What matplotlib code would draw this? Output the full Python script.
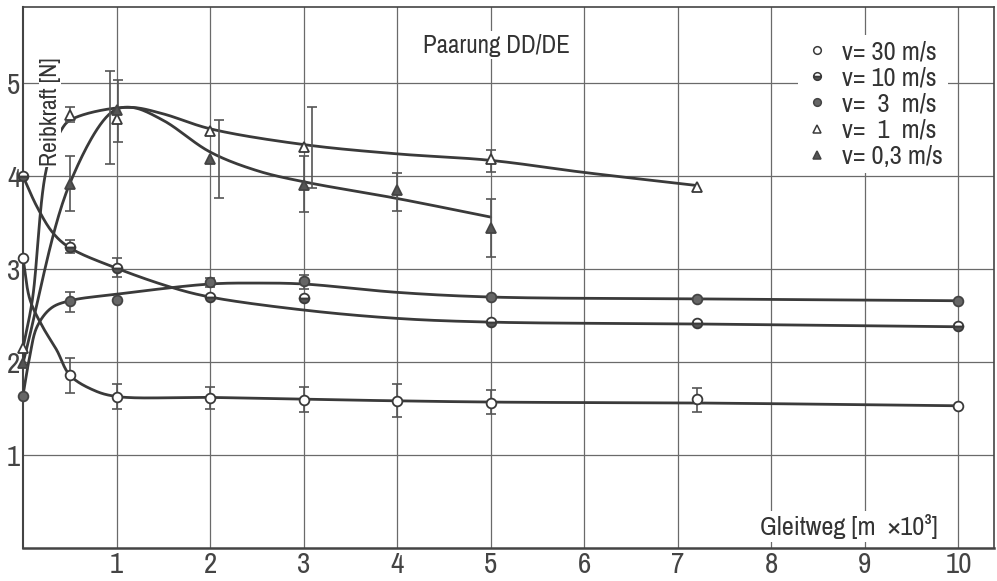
import numpy as np
import matplotlib
matplotlib.use("Agg")
import matplotlib.pyplot as plt
from matplotlib.lines import Line2D
from matplotlib import font_manager as fm

# pick a narrow font if one is installed
_narrow = None
for f in fm.fontManager.ttflist:
    if ('Narrow' in f.name or 'Condensed' in f.name) and _narrow is None:
        _narrow = f.name
_cond_stretch = [f for f in fm.fontManager.ttflist if f.stretch in ('condensed', 'semi-condensed', 'extra-condensed', 300, 400, 200)]
if _narrow:
    plt.rcParams['font.family'] = [_narrow, 'DejaVu Sans']
elif _cond_stretch:
    plt.rcParams['font.family'] = [_cond_stretch[0].name, 'DejaVu Sans']
    plt.rcParams['font.stretch'] = 'condensed'
else:
    plt.rcParams['font.family'] = ['Roboto', 'DejaVu Sans']
plt.rcParams['font.weight'] = 'light'

# ---------------- data ----------------
labels = ["v= 30 m/s", "v= 10 m/s", "v=  3  m/s", "v=  1  m/s", "v= 0,3 m/s"]

# measured points
x30 = [0, 0.5, 1, 2, 3, 4, 5, 7.2, 10]
y30 = [3.12, 1.86, 1.62, 1.61, 1.59, 1.58, 1.56, 1.60, 1.53]
x10 = [0, 0.5, 1, 2, 3, 5, 7.2, 10]
y10 = [4.00, 3.24, 3.01, 2.70, 2.69, 2.43, 2.42, 2.39]
x3 = [0, 0.5, 1, 2, 3, 5, 7.2, 10]
y3 = [1.64, 2.66, 2.67, 2.86, 2.87, 2.70, 2.68, 2.66]
x1 = [0, 0.5, 1, 2, 3, 5, 7.2]
y1 = [2.15, 4.66, 4.62, 4.49, 4.31, 4.18, 3.88]
x03 = [0, 0.5, 1, 2, 3, 4, 5]
y03 = [1.99, 3.92, 4.71, 4.19, 3.91, 3.85, 3.44]

# error bars (x position, lower, upper)
e30_x = [0.5, 1, 2, 3, 4, 5, 7.2]
e30_lo = [1.67, 1.50, 1.50, 1.46, 1.41, 1.44, 1.46]
e30_hi = [2.04, 1.76, 1.73, 1.73, 1.76, 1.70, 1.72]
e10_x = [0.5, 1]
e10_lo = [3.17, 2.92]
e10_hi = [3.31, 3.12]
e3_x = [0.5, 2, 3]
e3_lo = [2.54, 2.81, 2.79]
e3_hi = [2.75, 2.91, 2.94]
e1_x = [0.5, 0.93, 3.09, 5]
e1_lo = [4.58, 4.13, 3.87, 4.05]
e1_hi = [4.74, 5.13, 4.74, 4.28]
e03_x = [0.5, 1.02, 2.09, 3, 4, 5]
e03_lo = [3.63, 4.37, 3.77, 3.61, 3.63, 3.13]
e03_hi = [4.22, 5.03, 4.60, 4.22, 4.03, 3.75]

# hand-drawn fitted curves (knots)
c30_x = [0, 0.075, 0.21, 0.36, 0.5, 0.75, 1, 2, 3, 5, 7.2, 10]
c30_y = [3.12, 2.67, 2.38, 2.13, 1.86, 1.70, 1.63, 1.62, 1.60, 1.57, 1.56, 1.53]
c10_x = [0, 0.15, 0.32, 0.5, 1, 1.6, 2, 3, 4, 5, 7.2, 10]
c10_y = [4.00, 3.67, 3.39, 3.23, 3.01, 2.80, 2.70, 2.56, 2.47, 2.43, 2.41, 2.38]
c3_x = [0, 0.07, 0.15, 0.3, 0.5, 1, 2, 2.5, 3, 4, 5, 7.2, 10]
c3_y = [1.64, 2.05, 2.38, 2.58, 2.66, 2.73, 2.84, 2.85, 2.84, 2.75, 2.70, 2.68, 2.66]
c1_x = [0, 0.1, 0.26, 0.43, 0.5, 0.75, 1.16, 1.5, 2, 3, 4, 5, 6, 7.2]
c1_y = [2.15, 2.67, 4.12, 4.53, 4.60, 4.69, 4.74, 4.67, 4.51, 4.34, 4.24, 4.17, 4.04, 3.90]
c03_x = [0, 0.5, 0.95, 1.16, 1.5, 2, 2.5, 3, 4, 5]
c03_y = [1.99, 3.92, 4.69, 4.74, 4.60, 4.26, 4.06, 3.94, 3.76, 3.56]

x_ticks = [1, 2, 3, 4, 5, 6, 7, 8, 9, 10]
y_ticks = [1, 2, 3, 4, 5]


def smooth(xs, ys, n=30, sx=93.5, sy=93.0):
    """Centripetal Catmull-Rom curve through the given knots."""
    P = np.column_stack([np.asarray(xs, float) * sx, np.asarray(ys, float) * sy])
    P = np.vstack([2 * P[0] - P[1], P, 2 * P[-1] - P[-2]])
    out = []
    for i in range(1, len(P) - 2):
        p0, p1, p2, p3 = P[i - 1], P[i], P[i + 1], P[i + 2]
        t0 = 0.0
        t1 = t0 + np.linalg.norm(p1 - p0) ** 0.5
        t2 = t1 + np.linalg.norm(p2 - p1) ** 0.5
        t3 = t2 + np.linalg.norm(p3 - p2) ** 0.5
        t = np.linspace(t1, t2, n)[:, None]
        a1 = (t1 - t) / (t1 - t0) * p0 + (t - t0) / (t1 - t0) * p1
        a2 = (t2 - t) / (t2 - t1) * p1 + (t - t1) / (t2 - t1) * p2
        a3 = (t3 - t) / (t3 - t2) * p2 + (t - t2) / (t3 - t2) * p3
        b1 = (t2 - t) / (t2 - t0) * a1 + (t - t0) / (t2 - t0) * a2
        b2 = (t3 - t) / (t3 - t1) * a2 + (t - t1) / (t3 - t1) * a3
        c = (t2 - t) / (t2 - t1) * b1 + (t - t1) / (t2 - t1) * b2
        out.append(c if i == 1 else c[1:])
    C = np.vstack(out)
    return C[:, 0] / sx, C[:, 1] / sy


ink = '#3a3a3a'
grid_c = '#6a6a6a'
txt_c = '#333333'

fig = plt.figure(figsize=(9.97, 5.81), dpi=100)
ax = fig.add_axes([23 / 997, 33 / 581, 971 / 997, 541 / 581])
ax.set_xlim(0, 10.38)
ax.set_ylim(0, 5.82)

ax.set_xticks(x_ticks)
ax.set_yticks(y_ticks)
ax.set_xticklabels([str(v) for v in x_ticks])
ax.set_yticklabels([str(v) for v in y_ticks])
ax.tick_params(axis='both', length=0, labelsize=21, colors='#444444')
ax.tick_params(axis='x', pad=2)
ax.tick_params(axis='y', pad=2)
ax.grid(True, color=grid_c, linewidth=0.9)
ax.set_axisbelow(True)
for s in ax.spines.values():
    s.set_color('#444444')
    s.set_linewidth(1.2)
ax.spines['bottom'].set_linewidth(1.8)
ax.spines['left'].set_linewidth(1.5)

# curves
for cx, cy in [(c30_x, c30_y), (c10_x, c10_y), (c3_x, c3_y), (c1_x, c1_y), (c03_x, c03_y)]:
    sx_, sy_ = smooth(cx, cy)
    ax.plot(sx_, sy_, color=ink, linewidth=2.0, zorder=3, solid_capstyle='round')

# error bars
for ex, lo, hi in [(e30_x, e30_lo, e30_hi), (e10_x, e10_lo, e10_hi), (e3_x, e3_lo, e3_hi),
                   (e1_x, e1_lo, e1_hi), (e03_x, e03_lo, e03_hi)]:
    ex = np.asarray(ex); lo = np.asarray(lo); hi = np.asarray(hi)
    mid = (lo + hi) / 2
    ax.errorbar(ex, mid, yerr=[mid - lo, hi - mid], fmt='none', ecolor='#555555',
                elinewidth=1.2, capsize=3.5, capthick=1.2, zorder=3.5)

ms = 7
styles = [
    dict(marker='o', markerfacecolor='white', markeredgecolor=ink),
    dict(marker='o', markerfacecolor='#555555', markerfacecoloralt='white', fillstyle='bottom',
         markeredgecolor=ink),
    dict(marker='o', markerfacecolor='#666666', markeredgecolor='#444444'),
    dict(marker='^', markerfacecolor='white', markeredgecolor=ink),
    dict(marker='^', markerfacecolor='#555555', markeredgecolor='#444444'),
]
for (px, py), st in zip([(x30, y30), (x10, y10), (x3, y3), (x1, y1), (x03, y03)], styles):
    ax.plot(px, py, linestyle='none', markersize=ms, markeredgewidth=1.3, zorder=5,
            clip_on=False, **st)

# legend
handles = [Line2D([], [], linestyle='none', markersize=5.5, markeredgewidth=1.1, **st) for st in styles]
leg = ax.legend(handles, labels, loc='upper right', bbox_to_anchor=(925 / 971, 1 - 28 / 541),
                frameon=True, fontsize=19, handlelength=1.0, handletextpad=0.45,
                labelspacing=0.12, borderpad=0.2, borderaxespad=0.0)
leg.get_frame().set_facecolor('white')
leg.get_frame().set_edgecolor('none')
leg.get_frame().set_alpha(1)
leg.set_zorder(6)
for t in leg.get_texts():
    t.set_color(txt_c)

# texts
ax.text(5.06, 5.41, "Paarung DD/DE", ha='center', va='center', fontsize=18, color=txt_c,
        zorder=6, bbox=dict(facecolor='white', edgecolor='none', pad=2))
ax.text(9.78, 0.23, "Gleitweg [m  ×10³]", ha='right', va='center', fontsize=19, color=txt_c,
        zorder=6, bbox=dict(facecolor='white', edgecolor='none', pad=2))
ax.text(0.29, 4.69, "Reibkraft [N]", ha='center', va='center', rotation=90, fontsize=17,
        color=txt_c, zorder=4, bbox=dict(facecolor='white', edgecolor='none', pad=0.5))

fig.savefig("out.png", dpi=100)
